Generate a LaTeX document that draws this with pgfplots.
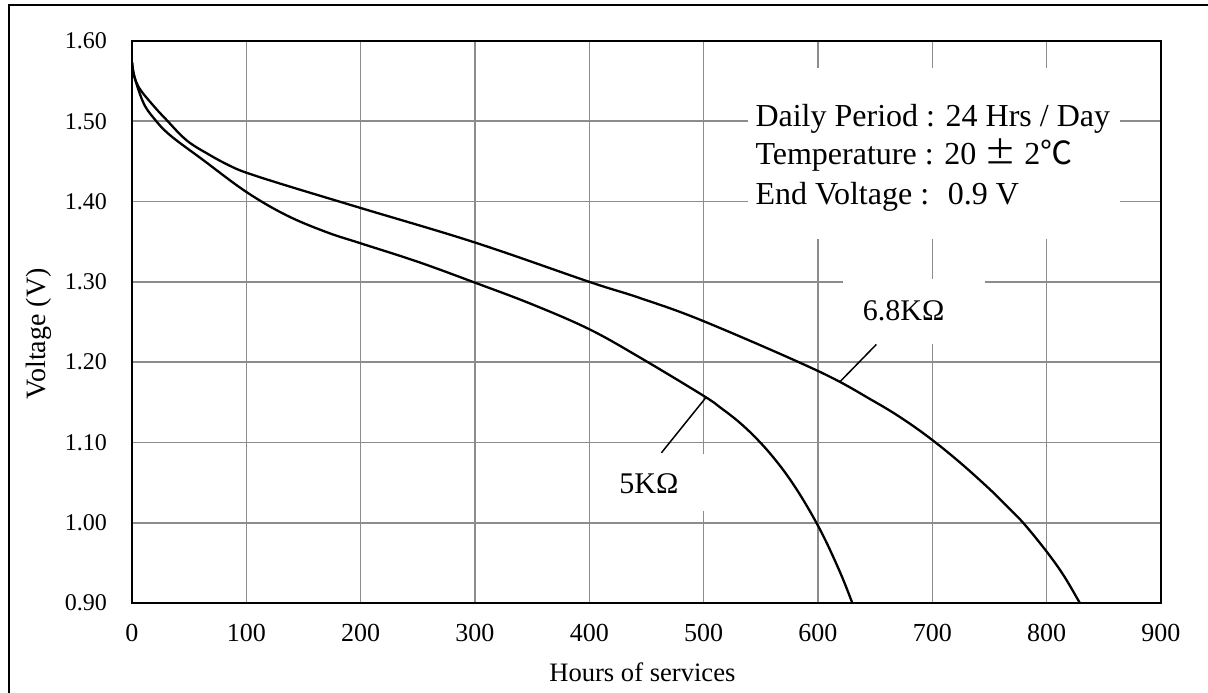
\documentclass[border=0pt]{standalone}
\usepackage{pgfplots}
\pgfplotsset{compat=1.18}
\usepackage{fontspec}
\setmainfont{Liberation Serif}
\newfontfamily\cjk{Noto Sans CJK SC}
\definecolor{gridgray}{RGB}{140,140,140}

% discharge curves, hours vs volts
\pgfplotstableread{
h v
0 1.574
2 1.556
10 1.523
19 1.504
33 1.483
62 1.452
100 1.412
135 1.383
170 1.362
200 1.348
250 1.325
300 1.299
350 1.272
400 1.241
444 1.206
500 1.158
515 1.143
530 1.1265
545 1.1066
560 1.083
575 1.055
590 1.0215
605 0.9825
620 0.936
630 0.900
}\fiveK

\pgfplotstableread{
h v
0 1.574
2 1.556
7 1.540
19 1.519
30 1.502
48 1.476
68 1.458
85 1.445
100 1.436
135 1.420
200 1.392
300 1.349
400 1.300
444 1.280
500 1.251
600 1.189
648 1.152
675 1.1285
700 1.103
725 1.074
750 1.042
765 1.021
780 0.999
800 0.964
815 0.934
829 0.900
}\sixeightK

\begin{document}
\begin{tikzpicture}
\useasboundingbox (-66pt,-44.5pt) rectangle (538pt,301.5pt);
\draw[line width=0.85pt] (-61.5pt,-60pt) rectangle (560pt,299pt);
\begin{axis}[
  at={(0,0)}, anchor=south west,
  scale only axis,
  width=514.5pt, height=281pt,
  xmin=0, xmax=900, ymin=0.9, ymax=1.6,
  xtick={0,100,...,900},
  ytick={0.9,1.0,1.1,1.2,1.3,1.4,1.5,1.6},
  major tick length=0pt,
  grid=major,
  major grid style={gridgray, line width=0.8pt},
  axis line style={line width=1pt},
  /pgf/number format/assume math mode=true,
  yticklabel style={/pgf/number format/.cd, fixed, fixed zerofill, precision=2, /tikz/.cd,
    font=\fontsize{12}{14}\selectfont, xshift=-9pt},
  xticklabel style={font=\fontsize{13}{15}\selectfont, yshift=-7pt},
  xlabel={Hours of services},
  ylabel={Voltage (V)},
  xlabel style={font=\fontsize{13.3}{15}\selectfont, at={(axis description cs:0.496,-0.14)}, anchor=base},
  ylabel style={font=\fontsize{14}{16}\selectfont, at={(axis description cs:-0.0845,0.479)}, anchor=base},
]
% white patches behind the notes
\fill[white] (axis cs:539,1.354) rectangle (axis cs:864,1.566);
\fill[white] (axis cs:622,1.222) rectangle (axis cs:746,1.303);
\fill[white] (axis cs:412,1.014) rectangle (axis cs:502,1.086);

\addplot[black, line width=1.15pt, smooth, tension=0.6] table[x=h, y=v] {\fiveK};
\addplot[black, line width=1.15pt, smooth, tension=0.6] table[x=h, y=v] {\sixeightK};

\draw[black, line width=0.75pt] (axis cs:651,1.222) -- (axis cs:619.5,1.176);
\draw[black, line width=0.75pt] (axis cs:463,1.087) -- (axis cs:502,1.156);

\node[anchor=base west, inner sep=0pt, font=\fontsize{15}{18}\selectfont] at (axis cs:639,1.2513) {6.8KΩ};
\node[anchor=base west, inner sep=0pt, font=\fontsize{15}{18}\selectfont] at (axis cs:426,1.036) {5KΩ};

\node[anchor=base west, inner sep=0pt, font=\fontsize{16}{19.5}\selectfont] at (axis cs:545,1.4935) {Daily Period : 24 Hrs / Day};
\node[anchor=base west, inner sep=0pt, font=\fontsize{16}{19.5}\selectfont] at (axis cs:545,1.446) {Temperature : 20 {\cjk ±} 2{\cjk ℃}};
\node[anchor=base west, inner sep=0pt, font=\fontsize{16}{19.5}\selectfont] at (axis cs:545,1.3963) {End Voltage : ~0.9 V};
\end{axis}
\end{tikzpicture}
\end{document}
